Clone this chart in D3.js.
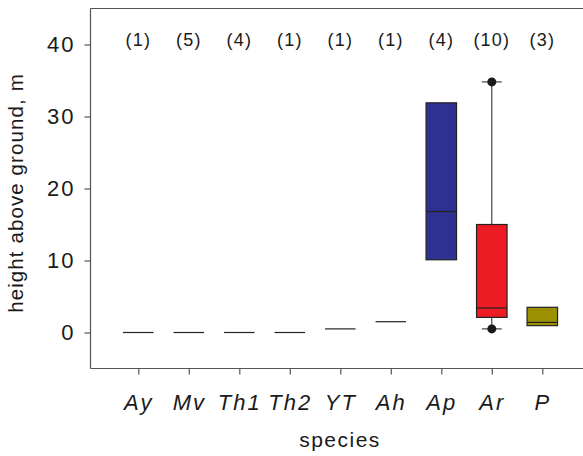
<!DOCTYPE html>
<html>
<head>
<meta charset="utf-8">
<script src="https://cdn.jsdelivr.net/npm/d3@7"></script>
<style>
  html, body { margin: 0; padding: 0; background: #fff; }
  svg text { font-family: "Liberation Sans", Arial, sans-serif; fill: #1a1a1a; }
</style>
</head>
<body>
<svg id="chart" width="583" height="456"></svg>
<script>
// Heights above ground (m) per species: box statistics
const species   = ["Ay", "Mv", "Th1", "Th2", "YT", "Ah", "Ap", "Ar", "P"];
const counts    = [1, 5, 4, 1, 1, 1, 4, 10, 3];
const q1        = [0, 0, 0, 0, 0.5, 1.5, 10.1, 2.1, 0.95];
const medians   = [0, 0, 0, 0, 0.5, 1.5, 16.8, 3.4, 1.4];
const q3        = [0, 0, 0, 0, 0.5, 1.5, 31.9, 15, 3.5];
const whiskerLo = [null, null, null, null, null, null, null, 0.5, null];
const whiskerHi = [null, null, null, null, null, null, null, 34.8, null];
const outliers  = [[], [], [], [], [], [], [], [0.5, 34.8], []];
const boxColors = [null, null, null, null, null, null, "#2e3192", "#ed1c24", "#9a9000"];
const yTicks    = [0, 10, 20, 30, 40];

const svg = d3.select("#chart");
const plotLeft = 90.5, plotTop = 8.5, plotBottom = 368.5, plotRight = 590;

const y = d3.scaleLinear().domain([-5, 45]).range([plotBottom, plotTop]);
const x = d3.scalePoint().domain(species).range([138.3, 542.3]);
const boxW = 30.5, capW = 20;

// frame: left, top and bottom lines
const frame = svg.append("g").attr("stroke", "#555").attr("fill", "none").attr("stroke-width", 1.2);
frame.append("line").attr("x1", plotLeft).attr("x2", plotLeft).attr("y1", plotTop).attr("y2", plotBottom);
frame.append("line").attr("x1", plotLeft).attr("x2", plotRight).attr("y1", plotTop).attr("y2", plotTop);
frame.append("line").attr("x1", plotLeft).attr("x2", plotRight).attr("y1", plotBottom).attr("y2", plotBottom);

// y axis
const yAxis = svg.append("g").attr("transform", `translate(${plotLeft},0)`)
  .call(d3.axisLeft(y).tickValues(yTicks).tickSize(6).tickPadding(9).tickFormat(d3.format("d")));
yAxis.select(".domain").remove();
yAxis.selectAll(".tick line").attr("stroke", "#555").attr("stroke-width", 1.2);
yAxis.selectAll(".tick text").attr("font-size", 22).attr("letter-spacing", 2)
  .attr("font-family", "Liberation Sans, Arial, sans-serif").attr("fill", "#1a1a1a");

// x axis
const xAxis = svg.append("g").attr("transform", `translate(0,${plotBottom})`)
  .call(d3.axisBottom(x).tickSize(6).tickPadding(20));
xAxis.select(".domain").remove();
xAxis.selectAll(".tick line").attr("stroke", "#555").attr("stroke-width", 1.2);
xAxis.selectAll(".tick text").attr("font-size", 22).attr("font-style", "italic").attr("letter-spacing", 2)
  .attr("font-family", "Liberation Sans, Arial, sans-serif").attr("fill", "#1a1a1a");

// axis titles
svg.append("text")
  .attr("transform", `translate(23,193) rotate(-90)`)
  .attr("text-anchor", "middle").attr("font-size", 20.5).attr("letter-spacing", 1.1)
  .text("height above ground, m");
svg.append("text")
  .attr("x", 340).attr("y", 447).attr("text-anchor", "middle")
  .attr("font-size", 21).attr("letter-spacing", 1.5)
  .text("species");

// sample sizes above each species
svg.append("g").selectAll("text").data(species).join("text")
  .attr("x", d => x(d)).attr("y", y(40) + 1)
  .attr("text-anchor", "middle").attr("font-size", 18).attr("letter-spacing", 1.2)
  .text((d, i) => `(${counts[i]})`);

// boxes, whiskers and extreme points
const g = svg.append("g");
species.forEach((s, i) => {
  const cx = x(s);
  if (whiskerHi[i] !== null) {
    g.append("line").attr("x1", cx).attr("x2", cx)
      .attr("y1", y(q3[i])).attr("y2", y(whiskerHi[i])).attr("stroke", "#222");
    g.append("line").attr("x1", cx - capW / 2).attr("x2", cx + capW / 2)
      .attr("y1", y(whiskerHi[i])).attr("y2", y(whiskerHi[i])).attr("stroke", "#222");
  }
  if (whiskerLo[i] !== null) {
    g.append("line").attr("x1", cx).attr("x2", cx)
      .attr("y1", y(q1[i])).attr("y2", y(whiskerLo[i])).attr("stroke", "#222");
    g.append("line").attr("x1", cx - capW / 2).attr("x2", cx + capW / 2)
      .attr("y1", y(whiskerLo[i])).attr("y2", y(whiskerLo[i])).attr("stroke", "#222");
  }
  if (q3[i] > q1[i]) {
    g.append("rect").attr("x", cx - boxW / 2).attr("width", boxW)
      .attr("y", y(q3[i])).attr("height", y(q1[i]) - y(q3[i]))
      .attr("fill", boxColors[i]).attr("stroke", "#222").attr("stroke-width", 1.2);
  }
  g.append("line").attr("x1", cx - boxW / 2).attr("x2", cx + boxW / 2)
    .attr("y1", y(medians[i])).attr("y2", y(medians[i]))
    .attr("stroke", "#222").attr("stroke-width", 1.2);
  outliers[i].forEach(v => {
    g.append("circle").attr("cx", cx).attr("cy", y(v)).attr("r", 4.5).attr("fill", "#1a1a1a");
  });
});
</script>
</body>
</html>
